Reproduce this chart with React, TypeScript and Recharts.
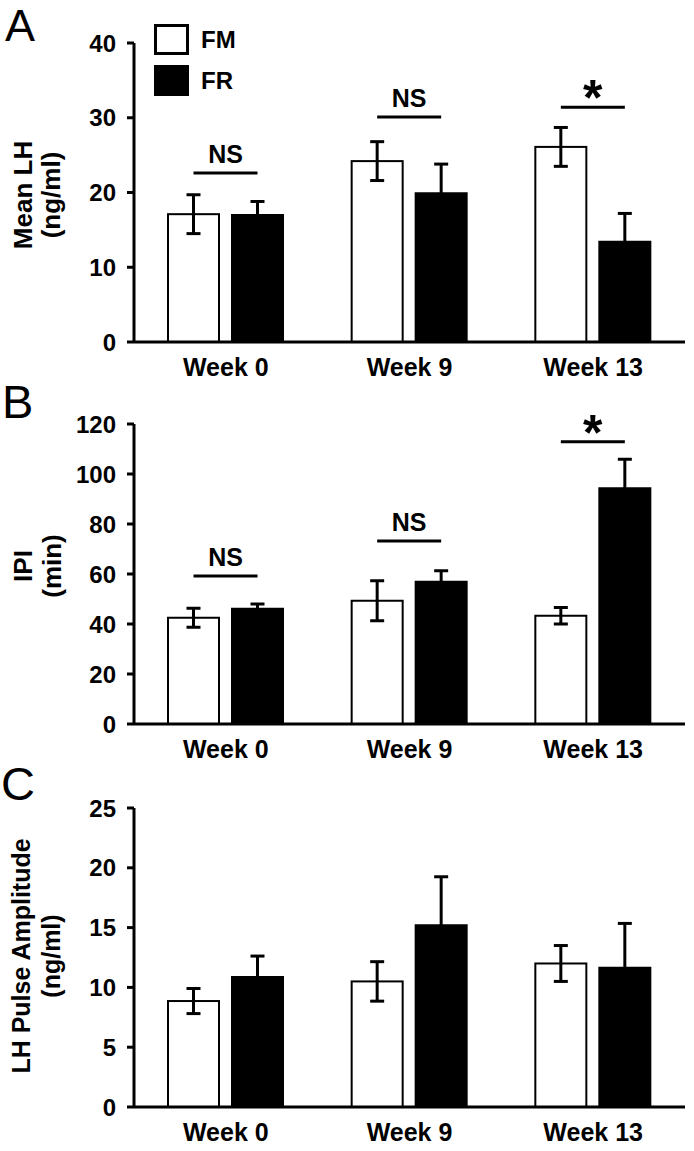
import { BarChart, Bar, XAxis, YAxis, ErrorBar, Legend, Customized } from 'recharts';

const FONT = '"Liberation Sans", Arial, Helvetica, sans-serif';
const BAR_SIZE = 51;
const BAR_GAP = 13;

const weeks = ['Week 0', 'Week 9', 'Week 13'];
const groups = ['FM', 'FR'];

// A: mean LH (ng/ml)
const meanLhFM = [17.1, 24.2, 26.1];
const meanLhFMErr = [2.6, 2.6, 2.6];
const meanLhFR = [17.0, 19.9, 13.4];
const meanLhFRErr = [1.8, 3.9, 3.8];
const meanLhSig = ['NS', 'NS', '*'];
const meanLhSigAt = [22.6, 30.1, 31.4];
const meanLhTicks = [0, 10, 20, 30, 40];

// B: inter-pulse interval (min)
const ipiFM = [42.5, 49.3, 43.3];
const ipiFMErr = [3.8, 8.0, 3.3];
const ipiFR = [46.1, 56.9, 94.3];
const ipiFRErr = [1.9, 4.4, 11.6];
const ipiSig = ['NS', 'NS', '*'];
const ipiSigAt = [59.2, 73.2, 112.9];
const ipiTicks = [0, 20, 40, 60, 80, 100, 120];

// C: LH pulse amplitude (ng/ml)
const ampFM = [8.86, 10.5, 12.0];
const ampFMErr = [1.05, 1.65, 1.5];
const ampFR = [10.87, 15.2, 11.65];
const ampFRErr = [1.75, 4.05, 3.7];
const ampTicks = [0, 5, 10, 15, 20, 25];

type Row = { week: string; fm: number; fmErr: number; fr: number; frErr: number; sig?: string; sigAt?: number };

function rows(fm: number[], fmErr: number[], fr: number[], frErr: number[], sig?: string[], sigAt?: number[]): Row[] {
  return weeks.map((week, i) => ({
    week,
    fm: fm[i],
    fmErr: fmErr[i],
    fr: fr[i],
    frErr: frErr[i],
    sig: sig ? sig[i] : undefined,
    sigAt: sigAt ? sigAt[i] : undefined,
  }));
}

// open FM bar, plus the significance bracket that spans to the FR bar
const openBar = (props: any) => {
  const { x, y, width, height, payload } = props;
  const base = y + height;
  let mark = null;
  if (payload.sig && payload.fm > 0) {
    const ly = base - (payload.sigAt * height) / payload.fm;
    const x1 = x + width / 2;
    const x2 = x + width * 1.5 + BAR_GAP;
    const star = payload.sig === '*';
    mark = (
      <g>
        <line x1={x1} y1={ly} x2={x2} y2={ly} stroke="#000" strokeWidth={3} />
        <text
          x={(x1 + x2) / 2}
          y={star ? ly + 8 : ly - 10}
          textAnchor="middle"
          fontFamily={FONT}
          fontWeight="bold"
          fontSize={star ? 50 : 25}
        >
          {payload.sig}
        </text>
      </g>
    );
  }
  return (
    <g>
      <rect x={x} y={y} width={width} height={height} fill="#fff" stroke="#000" strokeWidth={2} />
      {mark}
    </g>
  );
};

const legendContent = () => (
  <div style={{ position: 'relative', width: 120, height: 80, fontFamily: FONT, fontWeight: 'bold', fontSize: 24 }}>
    {groups.map((g, i) => (
      <div key={g} style={{ position: 'absolute', left: 0, top: i * 41, display: 'flex', alignItems: 'center' }}>
        <div
          style={{
            width: 35,
            height: 31,
            boxSizing: 'border-box',
            border: '3px solid #000',
            background: i === 0 ? '#fff' : '#000',
          }}
        />
        <span style={{ marginLeft: 12, lineHeight: '31px' }}>{g}</span>
      </div>
    ))}
  </div>
);

interface PanelProps {
  top: number;
  height: number;
  marginTop: number;
  xAxisHeight: number;
  data: Row[];
  ticks: number[];
  letter: string;
  letterX: number;
  letterY: number;
  letterSize: number;
  titles: { text: string; x: number }[];
  titleY: number;
  titleSize: number;
  legend?: boolean;
}

function Panel(p: PanelProps) {
  const max = p.ticks[p.ticks.length - 1];
  return (
    <div style={{ position: 'absolute', left: 0, top: p.top }}>
      <BarChart
        width={694}
        height={p.height}
        data={p.data}
        margin={{ top: p.marginTop, right: 9, bottom: 0, left: 0 }}
        barSize={BAR_SIZE}
        barGap={BAR_GAP}
      >
        <XAxis
          dataKey="week"
          height={p.xAxisHeight}
          axisLine={{ stroke: '#000', strokeWidth: 3 }}
          tickLine={false}
          tickSize={0}
          tickMargin={16}
          tick={{ fill: '#000', fontSize: 25, fontWeight: 'bold', fontFamily: FONT }}
        />
        <YAxis
          width={134}
          domain={[0, max]}
          ticks={p.ticks}
          interval={0}
          axisLine={{ stroke: '#000', strokeWidth: 3 }}
          tickLine={{ stroke: '#000', strokeWidth: 3 }}
          tickSize={7}
          tickMargin={11}
          tick={{ fill: '#000', fontSize: 24, fontWeight: 'bold', fontFamily: FONT }}
        />
        {p.legend && (
          <Legend
            layout="vertical"
            align="center"
            verticalAlign="middle"
            content={legendContent}
            wrapperStyle={{ left: 154, top: 24, width: 'auto' }}
          />
        )}
        <Bar dataKey="fm" name={groups[0]} fill="#fff" shape={openBar} isAnimationActive={false}>
          <ErrorBar dataKey="fmErr" width={7} strokeWidth={3} stroke="#000" direction="y" isAnimationActive={false} />
        </Bar>
        <Bar dataKey="fr" name={groups[1]} fill="#000" stroke="#000" strokeWidth={2} isAnimationActive={false}>
          <ErrorBar dataKey="frErr" width={7} strokeWidth={3} stroke="#000" direction="y" isAnimationActive={false} />
        </Bar>
        <Customized
          component={() => (
            <g fontFamily={FONT} fill="#000">
              <text x={p.letterX} y={p.letterY} fontSize={p.letterSize}>
                {p.letter}
              </text>
              {p.titles.map((t) => (
                <text
                  key={t.text}
                  x={t.x}
                  y={p.titleY}
                  transform={`rotate(-90, ${t.x}, ${p.titleY})`}
                  textAnchor="middle"
                  fontWeight="bold"
                  fontSize={p.titleSize}
                >
                  {t.text}
                </text>
              ))}
            </g>
          )}
        />
      </BarChart>
    </div>
  );
}

export default function App() {
  return (
    <div style={{ position: 'absolute', left: 0, top: 0, width: 694, height: 1151, background: '#fff' }}>
      <Panel
        top={0}
        height={385}
        marginTop={43}
        xAxisHeight={43}
        data={rows(meanLhFM, meanLhFMErr, meanLhFR, meanLhFRErr, meanLhSig, meanLhSigAt)}
        ticks={meanLhTicks}
        letter="A"
        letterX={5}
        letterY={41}
        letterSize={45}
        titles={[
          { text: 'Mean LH', x: 32 },
          { text: '(ng/ml)', x: 60 },
        ]}
        titleY={195}
        titleSize={26}
        legend
      />
      <Panel
        top={370}
        height={400}
        marginTop={54}
        xAxisHeight={46}
        data={rows(ipiFM, ipiFMErr, ipiFR, ipiFRErr, ipiSig, ipiSigAt)}
        ticks={ipiTicks}
        letter="B"
        letterX={2}
        letterY={48}
        letterSize={47}
        titles={[
          { text: 'IPI', x: 32 },
          { text: '(min)', x: 61 },
        ]}
        titleY={196}
        titleSize={26}
      />
      <Panel
        top={755}
        height={396}
        marginTop={53}
        xAxisHeight={44}
        data={rows(ampFM, ampFMErr, ampFR, ampFRErr)}
        ticks={ampTicks}
        letter="C"
        letterX={1}
        letterY={45}
        letterSize={47}
        titles={[
          { text: 'LH Pulse Amplitude', x: 30 },
          { text: '(ng/ml)', x: 60 },
        ]}
        titleY={201}
        titleSize={25}
      />
    </div>
  );
}
